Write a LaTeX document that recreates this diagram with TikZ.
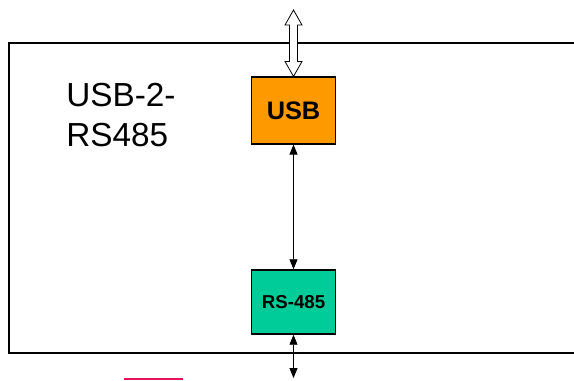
\documentclass[tikz,border=0pt]{standalone}
\usepackage{fontspec}
\setmainfont{Liberation Sans}
\usetikzlibrary{arrows.meta,positioning,calc}
\definecolor{usborange}{RGB}{255,153,0}
\definecolor{rsgreen}{RGB}{0,204,153}
\definecolor{strayred}{RGB}{230,20,90}

\begin{document}
\begin{tikzpicture}[x=0.75pt,y=-0.75pt,
  blockbox/.style={draw=black,line width=1.1pt,minimum width=63pt,inner sep=0pt},
  link/.style={line width=0.6pt,{Triangle[length=7.5pt,width=6pt]}-{Triangle[length=7.5pt,width=6pt]}}]
  \useasboundingbox (0,0) rectangle (574,380);
  % board outline, open to the right
  \draw[line width=1.5pt] (574,43) -- (9,43) -- (9,353) -- (574,353);
  \node[anchor=north west,align=left,inner sep=0pt,font=\fontsize{25}{30}\selectfont] (title) at (66,83) {USB-2-\\RS485};
  \node[blockbox,fill=usborange,minimum height=50pt,font=\bfseries\fontsize{19}{19}\selectfont] (usb) at (293.5,110.5) {USB};
  \node[blockbox,fill=rsgreen,minimum height=48pt,font=\bfseries\fontsize{14}{14}\selectfont] (rs) at (293.5,302) {RS-485};
  \coordinate (port) at (293.5,10);
  \coordinate (bus) at (293.5,378);
  \draw[link] (usb) -- (rs);
  \draw[link] (rs) -- (bus);
  % hollow double arrow to the host
  \draw[fill=white,line width=0.6pt] (usb.north) -- ++(-8.5,-15) -- ++(4.5,0)
    -- ($(port)+(-4,15)$) -- ++(-4.5,0) -- (port) -- ++(8.5,15) -- ++(-4.5,0)
    -- ($(usb.north)+(4,-15)$) -- ++(4.5,0) -- cycle;
  \draw[strayred,line width=0.8pt] (124,379) -- (183,379);
\end{tikzpicture}
\end{document}
